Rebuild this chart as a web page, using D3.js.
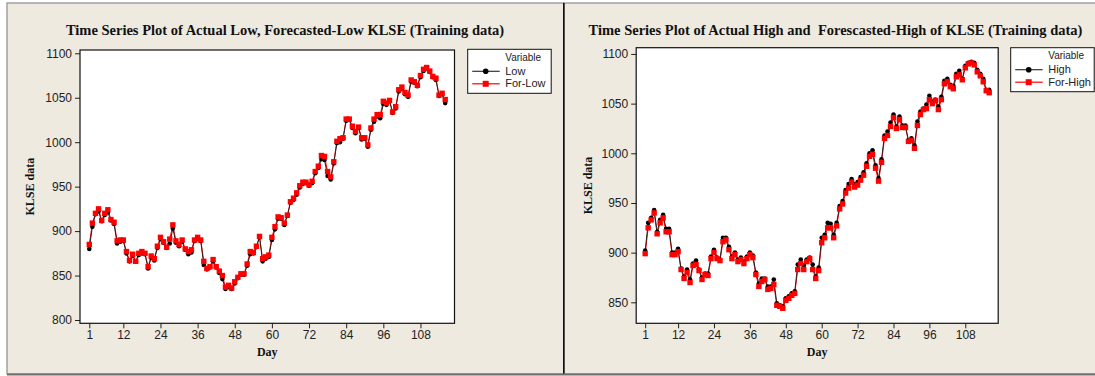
<!DOCTYPE html>
<html lang="en">
<head>
<meta charset="UTF-8" />
<title>KLSE time series</title>
<script src="https://d3js.org/d3.v7.min.js"></script>
<style>
	body { margin: 0; background: #fff; }
	svg { display: block; }
	.title { font-family: "Liberation Serif", "Times New Roman", serif; font-weight: bold; font-size: 14.5px; white-space: pre; fill: #111; }
	.alabel { font-family: "Liberation Serif", "Times New Roman", serif; font-weight: bold; font-size: 12px; fill: #111; }
	.tick text { font-family: "Liberation Sans", Arial, sans-serif; font-size: 12px; fill: #222; }
	.tick line { stroke: #222; }
	.legend text { font-family: "Liberation Sans", Arial, sans-serif; font-size: 11px; fill: #222; }
</style>
</head>
<body>
<svg width="1095" height="376"></svg>
<script>
	// Data
	const days = d3.range(1, 117);

	const lowActual = [
		880, 905, 919, 922, 911, 918, 921, 912, 908, 886,
		888, 889, 875, 866, 872, 866, 873, 875, 874, 858,
		870, 867, 881, 891, 887, 881, 886, 903, 887, 883,
		888, 879, 874, 876, 889, 891, 889, 862, 857, 859,
		866, 859, 853, 846, 835, 837, 835, 841, 847, 851,
		851, 861, 874, 875, 882, 893, 866, 869, 871, 890,
		902, 914, 914, 907, 917, 932, 935, 941, 949, 953,
		954, 951, 954, 965, 971, 981, 980, 962, 958, 976,
		999, 1000, 1004, 1024, 1025, 1016, 1010, 1016, 1003, 1004,
		995, 1014, 1023, 1029, 1027, 1043, 1042, 1046, 1033, 1038,
		1057, 1060, 1054, 1051, 1068, 1067, 1063, 1073, 1080, 1083,
		1079, 1073, 1070, 1052, 1054, 1044
	];
	const lowForecast = [
		885, 909, 920, 925, 912, 920, 924, 913, 910, 889,
		890, 890, 877, 867, 874, 866, 875, 877, 875, 860,
		872, 869, 883, 893, 888, 882, 891, 907, 889, 885,
		890, 880, 877, 879, 890, 893, 890, 866, 858, 860,
		868, 860, 855, 850, 837, 839, 836, 843, 848, 852,
		852, 863, 877, 876, 883, 894, 869, 871, 873, 893,
		905, 916, 915, 909, 918, 933, 937, 943, 951, 955,
		955, 952, 956, 967, 973, 985, 984, 967, 961, 978,
		1001, 1004, 1005, 1026, 1026, 1018, 1012, 1017, 1005, 1005,
		997, 1016, 1026, 1031, 1031, 1046, 1044, 1047, 1034, 1040,
		1059, 1062, 1056, 1053, 1070, 1068, 1064, 1075, 1082, 1084,
		1080, 1074, 1072, 1053, 1055, 1048
	];
	const highActual = [
		902, 930, 935, 943, 921, 933, 938, 924, 924, 900,
		900, 904, 884, 876, 883, 873, 889, 892, 883, 875,
		879, 879, 896, 903, 895, 893, 915, 915, 906, 896,
		900, 893, 895, 891, 896, 900, 897, 880, 869, 874,
		874, 866, 866, 873, 849, 847, 846, 854, 856, 859,
		861, 888, 893, 887, 893, 895, 888, 876, 885, 915,
		918, 930, 929, 918, 930, 947, 952, 963, 969, 974,
		969, 971, 976, 981, 990, 1000, 1003, 988, 975, 994,
		1018, 1022, 1031, 1039, 1027, 1037, 1028, 1028, 1013, 1015,
		1008, 1032, 1042, 1045, 1049, 1058, 1052, 1054, 1047, 1057,
		1073, 1075, 1069, 1068, 1080, 1083, 1075, 1088, 1091, 1092,
		1091, 1084, 1080, 1075, 1064, 1064
	];
	const highForecast = [
		899, 925, 933, 940, 919, 930, 935, 921, 921, 898,
		898, 901, 883, 874, 880, 870, 887, 888, 882, 873,
		878, 877, 894, 900, 894, 892, 911, 913, 903, 894,
		898, 891, 893, 889, 894, 898, 895, 878, 866, 871,
		873, 863, 864, 868, 847, 846, 844, 852, 854, 857,
		859, 883, 889, 883, 891, 894, 883, 874, 882, 910,
		915, 925, 925, 915, 927, 944, 949, 960, 965, 971,
		966, 968, 973, 978, 987, 997, 999, 985, 972, 991,
		1015, 1018, 1027, 1036, 1025, 1034, 1026, 1026, 1012, 1013,
		1005, 1028, 1039, 1044, 1045, 1054, 1050, 1053, 1044, 1054,
		1070, 1072, 1067, 1065, 1077, 1079, 1074, 1086, 1090, 1091,
		1089, 1082, 1078, 1072, 1063, 1061
	];

	const dayTicks = [1, 12, 24, 36, 48, 60, 72, 84, 96, 108];
	const lowTicks = [800, 850, 900, 950, 1000, 1050, 1100];
	const highTicks = [850, 900, 950, 1000, 1050, 1100];

	const svg = d3.select("svg");
	const bg = "#eeeae0";

	// panel frames
	svg.append("rect").attr("x", 7).attr("y", 3).attr("width", 557).attr("height", 371)
		.attr("fill", bg).attr("stroke", "#8c8c8c").attr("stroke-width", 1.2);
	svg.append("rect").attr("x", 564).attr("y", 3).attr("width", 540).attr("height", 371)
		.attr("fill", bg).attr("stroke", "#8c8c8c").attr("stroke-width", 1.2);
	svg.append("line").attr("x1", 563.8).attr("x2", 563.8).attr("y1", 3).attr("y2", 375)
		.attr("stroke", "#111").attr("stroke-width", 1.6);
	svg.append("line").attr("x1", 7).attr("x2", 1095).attr("y1", 374.5).attr("y2", 374.5)
		.attr("stroke", "#6e6e6e").attr("stroke-width", 2);

	function drawPanel(p) {
		const g = svg.append("g");
		const x = d3.scaleLinear().domain([-2, 119]).range([p.x0, p.x1]);
		const y = d3.scaleLinear().domain(p.yDomain).range([p.y1, p.y0]);

		g.append("text").attr("class", "title").attr("x", p.titleX).attr("y", 35)
			.attr("text-anchor", "middle").text(p.title);

		g.append("rect").attr("x", p.x0).attr("y", p.y0)
			.attr("width", p.x1 - p.x0).attr("height", p.y1 - p.y0)
			.attr("fill", "#fff");

		const xAxis = g.append("g").attr("transform", `translate(0,${p.y1})`)
			.call(d3.axisBottom(x).tickValues(dayTicks).tickFormat(d3.format("d"))
				.tickSize(5).tickPadding(2.5).tickSizeOuter(0));
		const yAxis = g.append("g").attr("transform", `translate(${p.x0},0)`)
			.call(d3.axisLeft(y).tickValues(p.yTicks).tickFormat(d3.format("d"))
				.tickSize(5).tickPadding(3).tickSizeOuter(0));
		xAxis.select(".domain").remove();
		yAxis.select(".domain").remove();

		g.append("text").attr("class", "alabel").attr("text-anchor", "middle")
			.attr("x", (p.x0 + p.x1) / 2).attr("y", 356).text("Day");
		g.append("text").attr("class", "alabel").attr("text-anchor", "middle")
			.attr("transform", `translate(${p.yLabelX},${(p.y0 + p.y1) / 2}) rotate(-90)`)
			.text("KLSE data");

		const line = d3.line().x((d, i) => x(days[i])).y((d) => y(d));

		g.append("path").datum(p.forecast).attr("d", line)
			.attr("fill", "none").attr("stroke", "#ff0000").attr("stroke-width", 1);
		g.append("path").datum(p.actual).attr("d", line)
			.attr("fill", "none").attr("stroke", "#222").attr("stroke-width", 1);

		g.selectAll(".dot").data(p.actual).enter().append("circle")
			.attr("cx", (d, i) => x(days[i])).attr("cy", (d) => y(d))
			.attr("r", 2.3).attr("fill", "#000");
		g.selectAll(".sq").data(p.forecast).enter().append("rect")
			.attr("x", (d, i) => x(days[i]) - 2.7).attr("y", (d) => y(d) - 2.7)
			.attr("width", 5.4).attr("height", 5.4).attr("fill", "#ff0000");

		// plot box on top
		g.append("rect").attr("x", p.x0).attr("y", p.y0)
			.attr("width", p.x1 - p.x0).attr("height", p.y1 - p.y0)
			.attr("fill", "none").attr("stroke", "#111").attr("stroke-width", 1.2);

		// legend
		const lg = g.append("g").attr("class", "legend").attr("transform", `translate(${p.lx},${p.ly})`);
		lg.append("rect").attr("width", 83.5).attr("height", 44)
			.attr("fill", "#fff").attr("stroke", "#111").attr("stroke-width", 1);
		lg.append("text").attr("x", 37.5).attr("y", 11.5).style("font-size", "10px").text("Variable");
		lg.append("line").attr("x1", 4.5).attr("x2", 32).attr("y1", 22).attr("y2", 22)
			.attr("stroke", "#333").attr("stroke-width", 1.2);
		lg.append("circle").attr("cx", 18).attr("cy", 22).attr("r", 2.8).attr("fill", "#000");
		lg.append("text").attr("x", 37.5).attr("y", 25.5).text(p.names[0]);
		lg.append("line").attr("x1", 4.5).attr("x2", 32).attr("y1", 34.5).attr("y2", 34.5)
			.attr("stroke", "#ff0000").attr("stroke-width", 1.2);
		lg.append("rect").attr("x", 15).attr("y", 31.5).attr("width", 6).attr("height", 6).attr("fill", "#ff0000");
		lg.append("text").attr("x", 37.5).attr("y", 38).text(p.names[1]);
	}

	drawPanel({
		title: "Time Series Plot of Actual Low, Forecasted-Low KLSE (Training data)",
		titleX: 285, x0: 80, x1: 454.5, y0: 50, y1: 323.3,
		yDomain: [796.3, 1103.7], yTicks: lowTicks, yLabelX: 34,
		actual: lowActual, forecast: lowForecast,
		names: ["Low", "For-Low"], lx: 467.7, ly: 49.3
	});
	drawPanel({
		title: "Time Series Plot of Actual High and  Forescasted-High of KLSE (Training data)",
		titleX: 835.5, x0: 636.2, x1: 998.2, y0: 47.7, y1: 323.3,
		yDomain: [828.9, 1106.3], yTicks: highTicks, yLabelX: 592,
		actual: highActual, forecast: highForecast,
		names: ["High", "For-High"], lx: 1010.7, ly: 47.7
	});
</script>
</body>
</html>
